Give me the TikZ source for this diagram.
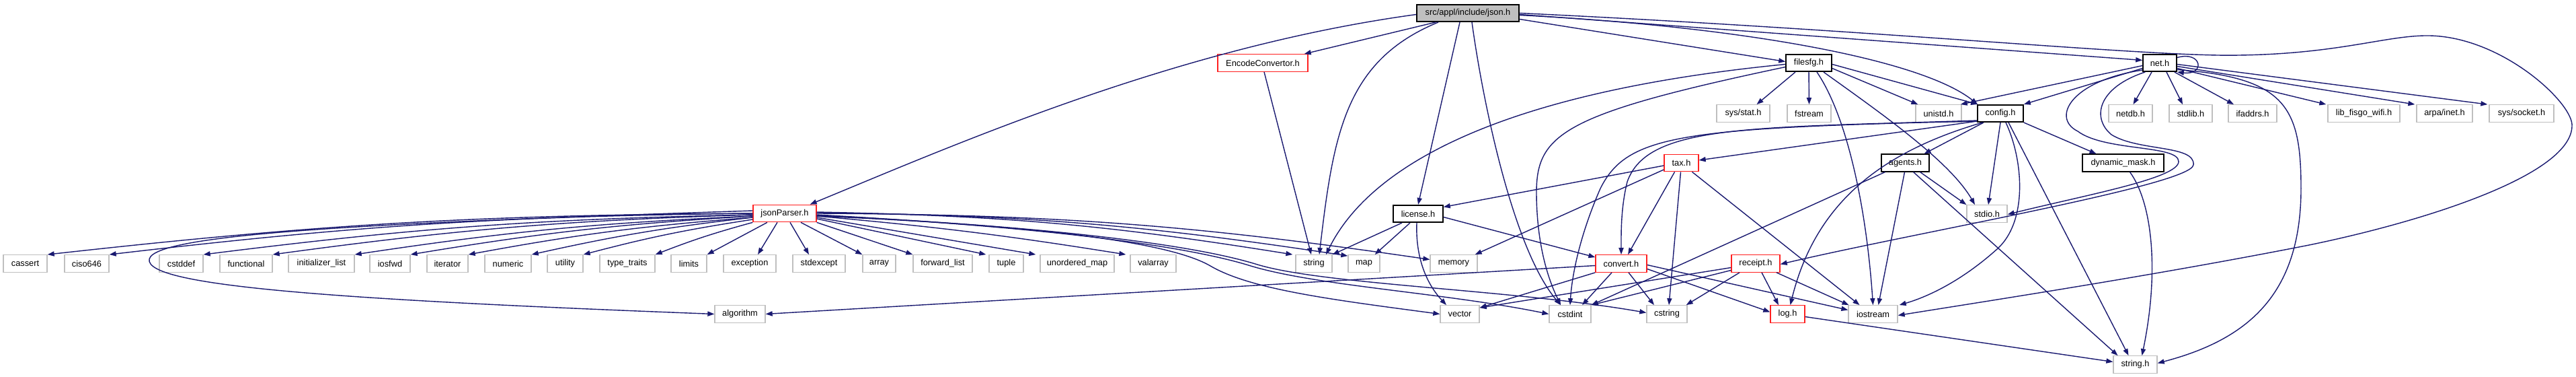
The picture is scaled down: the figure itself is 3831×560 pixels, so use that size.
\documentclass[tikz,border=0pt]{standalone}
\usepackage{fontspec}
\setmainfont{Liberation Sans}
\usetikzlibrary{arrows.meta}
\definecolor{edgeblue}{RGB}{25,25,112}
\definecolor{leafgray}{RGB}{191,191,191}
\definecolor{redb}{RGB}{255,32,32}
\begin{document}
\begin{tikzpicture}[x=0.5pt,y=-0.5pt,
  base/.style={draw, line width=0.65pt, minimum height=12.75pt, inner sep=0pt, fill=white, font=\fontsize{6.4}{7}\selectfont},
  bw/.style={minimum width=#1*0.5pt},
  leaf/.style={base, draw=leafgray},
  docn/.style={base, draw=black, line width=0.8pt},
  trunc/.style={base, draw=redb},
  rootn/.style={base, draw=black, line width=0.8pt, fill=leafgray},
  edge/.style={color=edgeblue, line width=0.7pt, -{Triangle[length=5pt,width=3.6pt,fill=edgeblue]}}
]
\fill[white] (0,0) rectangle (3831,560);
\useasboundingbox (0,0) rectangle (3831,560);
% row 0
\node[rootn,bw=152] (json) at (2183,19.5) {src/appl/include/json.h};
% row 1
\node[trunc,bw=134] (enc) at (1878,93.5) {EncodeConvertor.h};
\node[docn,bw=68] (filesfg) at (2690,93.5) {filesfg.h};
\node[docn,bw=50] (net) at (3212,93.5) {net.h};
% row 2
\node[leaf,bw=79] (sysstat) at (2592.5,168.5) {sys/stat.h};
\node[leaf,bw=65] (fstream) at (2690.5,168.5) {fstream};
\node[leaf,bw=68] (unistd) at (2883,168.5) {unistd.h};
\node[docn,bw=68] (config) at (2975,168.5) {config.h};
\node[leaf,bw=65] (netdb) at (3168.5,168.5) {netdb.h};
\node[leaf,bw=64] (stdlib) at (3258,168.5) {stdlib.h};
\node[leaf,bw=72] (ifaddrs) at (3350,168.5) {ifaddrs.h};
\node[leaf,bw=107] (libfisgo) at (3515.5,168.5) {lib\_fisgo\_wifi.h};
\node[leaf,bw=83] (arpainet) at (3635.5,168.5) {arpa/inet.h};
\node[leaf,bw=96] (syssocket) at (3750,168.5) {sys/socket.h};
% row 3
\node[trunc,bw=51] (tax) at (2500.5,242) {tax.h};
\node[docn,bw=71] (agents) at (2833.5,242) {agents.h};
\node[docn,bw=121] (dynmask) at (3157.5,242) {dynamic\_mask.h};
% row 4
\node[trunc,bw=94] (jsonParser) at (1167,317) {jsonParser.h};
\node[docn,bw=74] (license) at (2109,317.5) {license.h};
\node[leaf,bw=60] (stdio) at (2955,317.5) {stdio.h};
% row 5
\node[leaf,bw=65] (cassert) at (37.5,391.5) {cassert};
\node[leaf,bw=66] (ciso) at (129,391.5) {ciso646};
\node[leaf,bw=65] (cstddef) at (269.5,391.5) {cstddef};
\node[leaf,bw=78] (functional) at (366,391.5) {functional};
\node[leaf,bw=98] (initlist) at (478,391.5) {initializer\_list};
\node[leaf,bw=60] (iosfwd) at (580,391.5) {iosfwd};
\node[leaf,bw=61] (iterator) at (665.5,391.5) {iterator};
\node[leaf,bw=69] (numeric) at (755.5,391.5) {numeric};
\node[leaf,bw=53] (utility) at (840.5,391.5) {utility};
\node[leaf,bw=82] (typetraits) at (933,391.5) {type\_traits};
\node[leaf,bw=53] (limits) at (1024.5,391.5) {limits};
\node[leaf,bw=78] (exception) at (1115,391.5) {exception};
\node[leaf,bw=78] (stdexcept) at (1218,391.5) {stdexcept};
\node[leaf,bw=49] (array) at (1307.5,391.5) {array};
\node[leaf,bw=88] (fwdlist) at (1402,391.5) {forward\_list};
\node[leaf,bw=51] (tuple) at (1496.5,391.5) {tuple};
\node[leaf,bw=110] (umap) at (1602,391.5) {unordered\_map};
\node[leaf,bw=68] (valarray) at (1715,391.5) {valarray};
\node[leaf,bw=54] (string) at (1954,391.5) {string};
\node[leaf,bw=47] (map) at (2028.5,391.5) {map};
\node[leaf,bw=70] (memory) at (2162,391.5) {memory};
\node[trunc,bw=76] (convert) at (2411,391.5) {convert.h};
\node[trunc,bw=72] (receipt) at (2611,391.5) {receipt.h};
% row 6
\node[leaf,bw=75] (algorithm) at (1100.5,466.5) {algorithm};
\node[leaf,bw=58] (vector) at (2171,466.5) {vector};
\node[leaf,bw=62] (cstdint) at (2335,466.5) {cstdint};
\node[leaf,bw=60] (cstring) at (2479,466.5) {cstring};
\node[trunc,bw=51] (log) at (2658.5,466.5) {log.h};
\node[leaf,bw=73] (iostream) at (2785.5,466.5) {iostream};
% row 7
\node[leaf,bw=65] (stringh) at (3175.5,541.5) {string.h};

% json.h
\draw[edge] ([yshift=-1pt]json.west) .. controls (1750,70) and (1420,215) .. ([xshift=-5pt]jsonParser.north east);
\draw[edge] ([xshift=-24pt]json.south) -- ([xshift=-3pt]enc.north east);
\draw[edge] ([xshift=-22pt]json.south) .. controls (2000,90) and (1983,200) .. ([xshift=4pt]string.north);
\draw[edge] ([xshift=-6pt]json.south) -- (license.north);
\draw[edge] ([xshift=3pt]json.south) .. controls (2205,150) and (2250,370) .. ([xshift=-7pt]cstdint.north);
\draw[edge] ([yshift=-4.5pt]json.east) -- ([yshift=1pt]filesfg.west);
\draw[edge] ([yshift=-1.5pt]json.east) .. controls (2600,40) and (2860,90) .. ([xshift=-17pt]config.north);
\draw[edge] ([yshift=-1pt]json.east) -- ([yshift=2pt]net.west);
\draw[edge] (json.east) .. controls (2800,45) and (3200,85) .. (3330,82) .. controls (3480,80) and (3550,52) .. (3613,53) .. controls (3720,55) and (3823,150) .. (3825,185) .. controls (3828,260) and (3600,330) .. (3434,364) .. controls (3200,410) and (2950,448) .. ([yshift=-1pt]iostream.east);
% EncodeConvertor
\draw[edge] ([xshift=1pt]enc.south) -- ([xshift=-2pt]string.north);
% filesfg
\draw[edge] ([yshift=-1pt]filesfg.west) .. controls (2200,140) and (2030,260) .. ([xshift=9pt]string.north);
\draw[edge] ([yshift=-3pt]filesfg.west) .. controls (2320,170) and (2284,200) .. (2285,290) .. controls (2286,380) and (2310,430) .. ([xshift=-7pt]cstdint.north);
\draw[edge] ([xshift=-10pt]filesfg.south) -- ([xshift=10pt]sysstat.north);
\draw[edge] (filesfg.south) -- (fstream.north);
\draw[edge] ([xshift=6pt]filesfg.south) .. controls (2745,170) and (2775,300) .. (iostream.north);
\draw[edge] ([xshift=11pt]filesfg.south) .. controls (2800,170) and (2900,240) .. ([xshift=-9pt]stdio.north);
\draw[edge] ([yshift=-4pt]filesfg.east) -- ([xshift=2pt]unistd.north west);
\draw[edge] ([yshift=-1pt]filesfg.east) -- ([xshift=-17pt]config.north);
% net.h
\draw[edge] ([yshift=4pt]net.east) .. controls (3275,75) and (3280,112) .. (net.south east);
\draw[edge] ([yshift=-2pt]net.west) -- ([xshift=-1pt]unistd.north east);
\draw[edge] ([yshift=-4pt]net.west) -- (config.north east);
\draw[edge] ([yshift=1.5pt]net.south west) .. controls (3080,120) and (3050,175) .. (3090,195) .. controls (3130,225) and (3240,215) .. (3240,240) .. controls (3240,265) and (3100,290) .. ([yshift=-0.5pt]stdio.east);
\draw[edge] ([xshift=2pt]net.south west) .. controls (3120,130) and (3110,175) .. (3140,200) .. controls (3180,225) and (3265,215) .. (3262,245) .. controls (3258,275) and (2850,345) .. ([yshift=-0.5pt]receipt.east);
\draw[edge] ([xshift=-6pt]net.south) -- ([xshift=2pt]netdb.north);
\draw[edge] ([xshift=5pt]net.south) -- ([xshift=-6pt]stdlib.north);
\draw[edge] ([xshift=-2pt]net.south east) -- ([xshift=-14pt]ifaddrs.north);
\draw[edge] ([yshift=-4pt]net.east) -- ([xshift=-1pt]libfisgo.north west);
\draw[edge] ([yshift=-2.5pt]net.east) -- ([xshift=-1pt]arpainet.north west);
\draw[edge] ([yshift=-1pt]net.east) -- ([xshift=-1pt]syssocket.north west);
\draw[edge] ([yshift=-5pt]net.east) .. controls (3400,115) and (3422,160) .. (3422,280) .. controls (3422,440) and (3340,505) .. ([yshift=1pt]stringh.east);
% config.h
\draw[edge] ([yshift=1pt]config.south west) -- ([yshift=2pt]tax.east);
\draw[edge] ([yshift=1.5pt]config.south west) .. controls (2600,190) and (2450,185) .. (2420,270) .. controls (2410,310) and (2411,350) .. (convert.north);
\draw[edge] ([yshift=1pt]config.south west) .. controls (2500,190) and (2420,200) .. (2380,280) .. controls (2345,360) and (2337,420) .. (cstdint.north);
\draw[edge] ([xshift=4pt]config.south west) .. controls (2800,225) and (2700,300) .. ([xshift=2pt]log.north);
\draw[edge] ([xshift=-12.5pt]config.south) -- ([xshift=14pt]agents.north);
\draw[edge] (config.south) -- ([xshift=1pt]stdio.north);
\draw[edge] ([xshift=4pt]config.south) .. controls (3010,240) and (3015,330) .. (2970,370) .. controls (2920,415) and (2870,440) .. ([xshift=1pt]iostream.north east);
\draw[edge] ([xshift=6pt]config.south) -- ([xshift=-5pt]stringh.north);
\draw[edge] (config.south east) -- ([xshift=-20pt]dynmask.north);
% agents.h
\draw[edge] ([xshift=-15pt]agents.south) -- (cstdint.north east);
\draw[edge] ([xshift=-0.5pt]agents.south) -- ([xshift=4pt]iostream.north);
\draw[edge] ([xshift=11pt]agents.south) -- (stdio.north west);
\draw[edge] ([xshift=6pt]agents.south) -- ([xshift=-13pt]stringh.north);
% tax.h
\draw[edge] ([yshift=-2pt]tax.west) -- ([yshift=5pt]license.east);
\draw[edge] ([yshift=-5pt]tax.west) -- ([xshift=-2pt]memory.north east);
\draw[edge] ([xshift=-5pt]tax.south) -- ([xshift=5pt]convert.north);
\draw[edge] ([xshift=-0.5pt]tax.south) -- ([xshift=1.5pt]cstring.north);
\draw[edge] ([xshift=8pt]tax.south) -- ([xshift=-10pt]iostream.north);
% dynamic_mask.h, log.h
\draw[edge] ([xshift=5pt]dynmask.south) .. controls (3200,300) and (3212,400) .. ([xshift=5pt]stringh.north);
\draw[edge] ([yshift=-2pt]log.east) -- ([yshift=2pt]stringh.west);
% license.h
\draw[edge] ([xshift=-12pt]license.south) -- (string.north east);
\draw[edge] ([xshift=-6pt]license.south) -- ([xshift=-4pt]map.north east);
\draw[edge] ([xshift=-1pt]license.south) .. controls (2105,380) and (2120,420) .. ([xshift=-10pt]vector.north);
\draw[edge] ([yshift=-2.5pt]license.east) -- ([yshift=-2pt]convert.north west);
% convert.h
\draw[edge] ([yshift=-1.5pt]convert.west) -- (algorithm.east);
\draw[edge] (convert.south west) -- ([yshift=-2pt]vector.north east);
\draw[edge] ([xshift=-7pt]convert.south) -- ([xshift=9pt]cstdint.north);
\draw[edge] ([xshift=5.5pt]convert.south) -- ([xshift=-9.5pt]cstring.north);
\draw[edge] ([yshift=-4pt]convert.east) -- ([yshift=1.5pt]log.west);
\draw[edge] ([yshift=-1pt]convert.east) -- ([yshift=3pt]iostream.west);
% receipt.h
\draw[edge] ([yshift=-3pt]receipt.west) -- ([yshift=-2pt]vector.north east);
\draw[edge] ([yshift=-5pt]receipt.west) -- (cstdint.north east);
\draw[edge] ([xshift=-12pt]receipt.south) -- ([xshift=-1pt]cstring.north east);
\draw[edge] ([xshift=4.5pt]receipt.south) -- ([xshift=-6.75pt]log.north);
\draw[edge] ([xshift=15.5pt]receipt.south) -- ([xshift=-18pt]iostream.north);
% jsonParser.h
\draw[edge] (jsonParser.west) to[bend right=3] (cassert.north east);
\draw[edge] (jsonParser.west) to[bend right=3] (ciso.north east);
\draw[edge] ([yshift=-1pt]jsonParser.west) to[bend right=3] (cstddef.north east);
\draw[edge] ([yshift=-1pt]jsonParser.west) to[bend right=3] (functional.north east);
\draw[edge] ([yshift=-2pt]jsonParser.west) to[bend right=3] (initlist.north east);
\draw[edge] ([yshift=-2pt]jsonParser.west) to[bend right=3] (iosfwd.north east);
\draw[edge] ([yshift=-3pt]jsonParser.west) to[bend right=3] (iterator.north east);
\draw[edge] ([yshift=-3pt]jsonParser.west) to[bend right=3] (numeric.north east);
\draw[edge] ([yshift=-4.5pt]jsonParser.west) to[bend right=3] (utility.north east);
\draw[edge] (jsonParser.south west) to[bend right=3] (typetraits.north east);
\draw[edge] ([xshift=-13pt]jsonParser.south) -- (limits.north east);
\draw[edge] ([xshift=-5.5pt]jsonParser.south) -- ([xshift=6pt]exception.north);
\draw[edge] ([xshift=4pt]jsonParser.south) -- ([xshift=-7.5pt]stdexcept.north);
\draw[edge] ([xshift=12pt]jsonParser.south) -- (array.north west);
\draw[edge] (jsonParser.south east) -- (fwdlist.north west);
\draw[edge] ([yshift=-4pt]jsonParser.east) -- ([xshift=-2pt]tuple.north west);
\draw[edge] ([yshift=-3pt]jsonParser.east) -- ([xshift=-3pt]umap.north west);
\draw[edge] ([yshift=-2pt]jsonParser.east) to[bend left=2] ([xshift=-3pt]valarray.north west);
\draw[edge] ([yshift=1pt]jsonParser.east) to[bend left=4] ([xshift=-2pt]string.north west);
\draw[edge] ([yshift=0.5pt]jsonParser.east) to[bend left=4] ([yshift=-1pt]map.north west);
\draw[edge] ([yshift=0pt]jsonParser.east) to[bend left=4] ([yshift=3pt]memory.west);
\draw[edge] ([yshift=-2pt]jsonParser.east) .. controls (1550,335) and (1740,360) .. (1800,395) .. controls (1860,430) and (1980,445) .. (vector.west);
\draw[edge] ([yshift=-1pt]jsonParser.east) .. controls (1600,340) and (1780,370) .. (1860,395) .. controls (1960,425) and (2150,435) .. (cstdint.west);
\draw[edge] ([yshift=-1.5pt]jsonParser.east) .. controls (1600,338) and (1790,368) .. (1870,393) .. controls (1970,423) and (2250,430) .. ([yshift=1pt]cstring.west);
\draw[edge] ([yshift=2pt]jsonParser.west) .. controls (600,330) and (230,345) .. (222,385) .. controls (215,425) and (500,445) .. (algorithm.west);
\end{tikzpicture}
\end{document}
